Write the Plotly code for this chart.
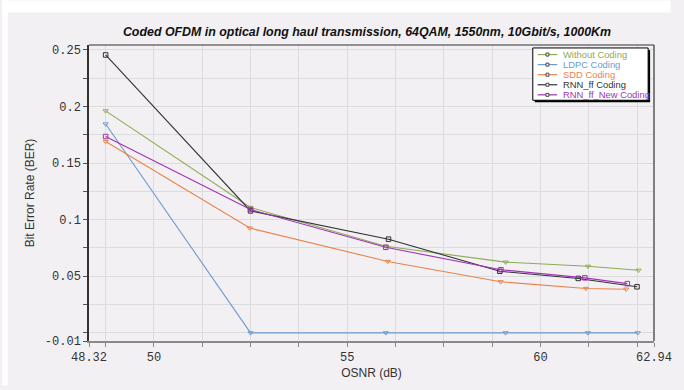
import plotly.graph_objects as go

# ---------------- data ----------------
series_names = ["Without Coding", "LDPC Coding", "SDD Coding", "RNN_ff Coding", "RNN_ff_New Coding"]
series_colors = ["#8cab55", "#6b9bd0", "#e8844a", "#333333", "#a033b5"]
series_symbols = ["triangle-down-open", "triangle-down-open", "triangle-down-open", "square-open", "square-open"]

osnr_without = [48.75, 52.5, 56.0, 59.1, 61.23, 62.54]
ber_without = [0.1962, 0.1108, 0.0765, 0.0625, 0.0588, 0.0553]

osnr_ldpc = [48.75, 52.5, 56.0, 59.1, 61.23, 62.52]
ber_ldpc = [0.1846, 0.0, 0.0, 0.0, 0.0, 0.0]

osnr_sdd = [48.75, 52.48, 56.05, 58.97, 61.18, 62.22]
ber_sdd = [0.1691, 0.0926, 0.0631, 0.0451, 0.0392, 0.0386]

osnr_rnn = [48.75, 52.5, 56.07, 58.95, 60.98, 62.5]
ber_rnn = [0.2456, 0.1078, 0.0828, 0.0544, 0.0481, 0.0407]

osnr_rnn_new = [48.75, 52.5, 56.0, 58.98, 61.15, 62.25]
ber_rnn_new = [0.1735, 0.1090, 0.0756, 0.0558, 0.0486, 0.0435]

x_min, x_max = 48.32, 62.94
y_min, y_max = -0.0072, 0.2544
x_major = [50, 55, 60]
y_major = [0.05, 0.1, 0.15, 0.2]
y_major_text = ["0.05", "0.1", "0.15", "0.2"]

title_text = "Coded OFDM in optical long haul transmission, 64QAM, 1550nm, 10Gbit/s, 1000Km"
x_title = "OSNR (dB)"
y_title = "Bit Error Rate (BER)"

# ---------------- figure ----------------
W, H = 684, 390
ML, MR, MT, MB = 89, 17, 45, 45
PW, PH = W - ML - MR, H - MT - MB
BG = "#f2f0f3"
GRID = "#dcdbde"

def px(x):
    return (x - ML) / PW

def py(y):
    return (H - MB - y) / PH

xs = [osnr_without, osnr_ldpc, osnr_sdd, osnr_rnn, osnr_rnn_new]
ys = [ber_without, ber_ldpc, ber_sdd, ber_rnn, ber_rnn_new]

fig = go.Figure()
for name, color, sym, x, y in zip(series_names, series_colors, series_symbols, xs, ys):
    fig.add_trace(go.Scatter(
        x=x, y=y, mode="lines+markers", name=name,
        line=dict(color=color, width=1.1),
        marker=dict(symbol=sym, size=4.5, color=color, line=dict(color=color, width=1)),
        showlegend=False,
    ))

tick_font = dict(family="Liberation Mono, DejaVu Sans Mono, monospace", size=12, color="#333333")

fig.update_layout(
    width=W, height=H,
    margin=dict(l=ML, r=MR, t=MT, b=MB),
    paper_bgcolor=BG, plot_bgcolor=BG,
    title=dict(text="<b><i>" + title_text + "</i></b>",
               font=dict(family="Liberation Sans, Arial, sans-serif", size=12.4, color="#111111"),
               x=367 / W, xanchor="center", xref="container",
               y=1 - 32 / H, yanchor="middle"),
    xaxis=dict(
        range=[x_min, x_max],
        tickvals=[x_min] + x_major + [x_max],
        ticktext=[f"{x_min:.2f}"] + [str(v) for v in x_major] + [f"{x_max:.2f}"],
        tickfont=tick_font, ticklabeloverflow="allow",
        ticks="outside", ticklen=4, tickcolor="#888888",
        showgrid=False,
        minor=dict(tick0=50, dtick=1.25, showgrid=True, gridcolor=GRID, gridwidth=1,
                   ticks="outside", ticklen=4, tickcolor="#888888"),
        showline=True, linecolor="#8a8a8a", linewidth=2, mirror=False,
        zeroline=False,
        title=dict(text=x_title, font=dict(family="Liberation Sans, Arial, sans-serif", size=12, color="#333333"),
                   standoff=4),
    ),
    yaxis=dict(
        range=[y_min, y_max],
        tickvals=[y_min] + y_major + [0.25],
        ticktext=[f"{y_min:.2f}"] + y_major_text + ["0.25"],
        tickfont=tick_font,
        ticks="outside", ticklen=4, tickcolor="#555555",
        showgrid=True, gridcolor=GRID,
        minor=dict(tick0=0, dtick=0.025, showgrid=True, gridcolor=GRID, gridwidth=1,
                   ticks="outside", ticklen=4, tickcolor="#555555"),
        showline=True, linecolor="#333333", linewidth=1.5, mirror=False,
        zeroline=False,
        title=dict(text=y_title, font=dict(family="Liberation Sans, Arial, sans-serif", size=12, color="#333333"),
                   standoff=8),
    ),
)

shapes = []
# white page border (top and left strips)
shapes.append(dict(type="rect", xref="paper", yref="paper", x0=px(0), x1=px(W), y0=py(12), y1=py(0),
                   fillcolor="white", line=dict(width=0), layer="below"))
shapes.append(dict(type="rect", xref="paper", yref="paper", x0=px(0), x1=px(6), y0=py(H), y1=py(0),
                   fillcolor="white", line=dict(width=0), layer="below"))
# frame top and right
shapes.append(dict(type="line", xref="paper", yref="paper", x0=0, x1=1, y0=1, y1=1,
                   line=dict(color="#333333", width=1.2)))
shapes.append(dict(type="line", xref="paper", yref="paper", x0=1, x1=1, y0=0, y1=1,
                   line=dict(color="#333333", width=1.2)))

# legend box (manual, compact like the reference)
lx0, lx1, ly0, ly1 = 543, 661, 48, 101
shapes.append(dict(type="rect", xref="paper", yref="paper", x0=px(lx0 + 2), x1=px(lx1 + 2),
                   y0=py(ly1 + 2), y1=py(ly0 + 2), fillcolor="black", line=dict(width=0)))
shapes.append(dict(type="rect", xref="paper", yref="paper", x0=px(lx0), x1=px(lx1),
                   y0=py(ly1), y1=py(ly0), fillcolor="white", line=dict(color="black", width=1)))
annotations = []
for i, (name, color) in enumerate(zip(series_names, series_colors)):
    yy = 54.7 + i * 10.2
    shapes.append(dict(type="line", xref="paper", yref="paper", x0=px(548), x1=px(568),
                       y0=py(yy), y1=py(yy), line=dict(color=color, width=1.2)))
    shapes.append(dict(type="rect", xref="paper", yref="paper", x0=px(556.5), x1=px(559.5),
                       y0=py(yy + 1.5), y1=py(yy - 1.5), fillcolor="white",
                       line=dict(color="#444444", width=1)))
    annotations.append(dict(xref="paper", yref="paper", x=px(572), y=py(yy), xanchor="left",
                            yanchor="middle", text=name, showarrow=False,
                            font=dict(family="Liberation Sans, Arial, sans-serif", size=9.4, color=color)))

fig.update_layout(shapes=shapes, annotations=annotations)
fig.write_html("out.html", config={"displayModeBar": False},
               post_script="document.body.style.margin='0px';")
